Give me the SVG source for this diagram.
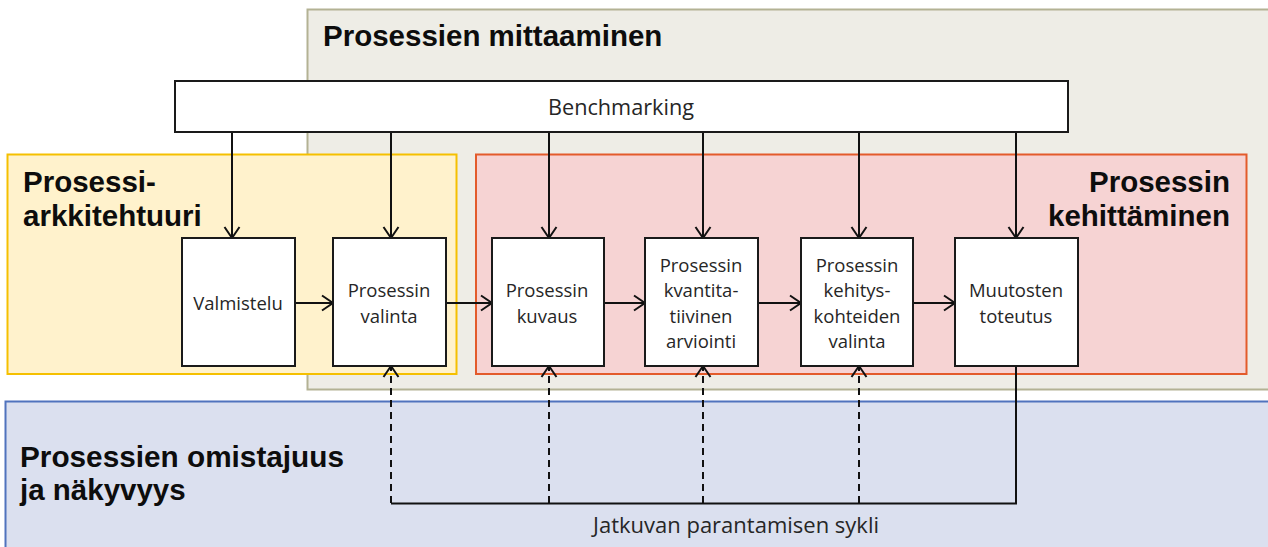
<svg xmlns="http://www.w3.org/2000/svg" width="1268" height="547" viewBox="0 0 1268 547">
  <style>
    .title { font-family: "Liberation Sans", Arial, sans-serif; font-weight: bold; font-size: 29.5px; fill: #0d0d0d; }
    .label { font-family: "Open Sans", "Noto Sans", sans-serif; font-size: 18.5px; fill: #262626; text-anchor: middle; }
    .label-lg { font-size: 22px; }
    .node { fill: #ffffff; stroke: #1a1a1a; stroke-width: 2; }
    .link { fill: none; stroke: #111111; stroke-width: 2; }
    .dash { stroke-dasharray: 7 5; }
  </style>
  <defs>
    <marker id="arrow" markerUnits="userSpaceOnUse" markerWidth="16" markerHeight="18" viewBox="-12 -9 14 18" refX="0" refY="0" orient="auto">
      <path d="M-11,-7.5 L0,0 L-11,7.5" fill="none" stroke="#111111" stroke-width="2"/>
    </marker>
  </defs>

  <!-- Background areas -->
  <g id="area-mittaaminen">
    <rect x="307.5" y="9.5" width="975" height="380" fill="#eeede6" stroke="#b3b294" stroke-width="2"/>
    <text class="title" x="323" y="45.5">Prosessien mittaaminen</text>
  </g>
  <g id="area-omistajuus">
    <rect x="5.5" y="401.5" width="1275" height="160" fill="#dbe0ef" stroke="#5073bd" stroke-width="2"/>
    <text class="title" x="20" y="467" textLength="324" lengthAdjust="spacingAndGlyphs">Prosessien omistajuus</text>
    <text class="title" x="20" y="500">ja näkyvyys</text>
  </g>
  <g id="area-arkkitehtuuri">
    <rect x="7.5" y="154.5" width="449" height="219.5" fill="#fff2cc" stroke="#f5c000" stroke-width="2"/>
    <text class="title" x="23" y="192">Prosessi-</text>
    <text class="title" x="23" y="226">arkkitehtuuri</text>
  </g>
  <g id="area-kehittaminen">
    <rect x="476" y="154.5" width="770.5" height="219.5" fill="#f6d3d3" stroke="#e35b2b" stroke-width="2"/>
    <text class="title" x="1230" y="192" text-anchor="end">Prosessin</text>
    <text class="title" x="1230" y="226" text-anchor="end">kehittäminen</text>
  </g>

  <!-- Connectors -->
  <g id="connectors">
    <!-- Benchmarking feeds every step -->
    <line class="link" x1="232" y1="132" x2="232" y2="238" marker-end="url(#arrow)"/>
    <line class="link" x1="391" y1="132" x2="391" y2="238" marker-end="url(#arrow)"/>
    <line class="link" x1="549" y1="132" x2="549" y2="238" marker-end="url(#arrow)"/>
    <line class="link" x1="703" y1="132" x2="703" y2="238" marker-end="url(#arrow)"/>
    <line class="link" x1="859" y1="132" x2="859" y2="238" marker-end="url(#arrow)"/>
    <line class="link" x1="1016" y1="132" x2="1016" y2="238" marker-end="url(#arrow)"/>
    <!-- Process flow -->
    <line class="link" x1="295" y1="303" x2="333" y2="303" marker-end="url(#arrow)"/>
    <line class="link" x1="446" y1="303" x2="492" y2="303" marker-end="url(#arrow)"/>
    <line class="link" x1="604" y1="303" x2="645" y2="303" marker-end="url(#arrow)"/>
    <line class="link" x1="758" y1="303" x2="801" y2="303" marker-end="url(#arrow)"/>
    <line class="link" x1="913" y1="303" x2="955" y2="303" marker-end="url(#arrow)"/>
    <!-- Continuous improvement loop -->
    <polyline class="link" points="1016,366 1016,503.5 391,503.5"/>
    <line class="link dash" x1="391" y1="503" x2="391" y2="366" marker-end="url(#arrow)"/>
    <line class="link dash" x1="549" y1="503" x2="549" y2="366" marker-end="url(#arrow)"/>
    <line class="link dash" x1="703" y1="503" x2="703" y2="366" marker-end="url(#arrow)"/>
    <line class="link dash" x1="859" y1="503" x2="859" y2="366" marker-end="url(#arrow)"/>
    <text class="label label-lg" x="736" y="533" textLength="286" lengthAdjust="spacingAndGlyphs">Jatkuvan parantamisen sykli</text>
  </g>

  <!-- Nodes -->
  <g id="benchmarking">
    <rect class="node" x="175" y="81" width="893" height="51"/>
    <text class="label label-lg" x="621" y="115" textLength="146" lengthAdjust="spacingAndGlyphs">Benchmarking</text>
  </g>
  <g id="valmistelu">
    <rect class="node" x="182" y="238" width="113" height="128"/>
    <text class="label" x="238" y="310">Valmistelu</text>
  </g>
  <g id="prosessin-valinta">
    <rect class="node" x="333" y="238" width="113" height="128"/>
    <text class="label" x="389" y="297">Prosessin</text>
    <text class="label" x="389" y="323">valinta</text>
  </g>
  <g id="prosessin-kuvaus">
    <rect class="node" x="492" y="238" width="112" height="128"/>
    <text class="label" x="547" y="297">Prosessin</text>
    <text class="label" x="547" y="323">kuvaus</text>
  </g>
  <g id="kvantitatiivinen-arviointi">
    <rect class="node" x="645" y="238" width="113" height="128"/>
    <text class="label" x="701" y="272">Prosessin</text>
    <text class="label" x="701" y="297">kvantita-</text>
    <text class="label" x="701" y="323">tiivinen</text>
    <text class="label" x="701" y="348">arviointi</text>
  </g>
  <g id="kehityskohteiden-valinta">
    <rect class="node" x="801" y="238" width="112" height="128"/>
    <text class="label" x="857" y="272">Prosessin</text>
    <text class="label" x="857" y="297">kehitys-</text>
    <text class="label" x="857" y="323">kohteiden</text>
    <text class="label" x="857" y="348">valinta</text>
  </g>
  <g id="muutosten-toteutus">
    <rect class="node" x="955" y="238" width="123" height="128"/>
    <text class="label" x="1016" y="297">Muutosten</text>
    <text class="label" x="1016" y="323">toteutus</text>
  </g>
</svg>
